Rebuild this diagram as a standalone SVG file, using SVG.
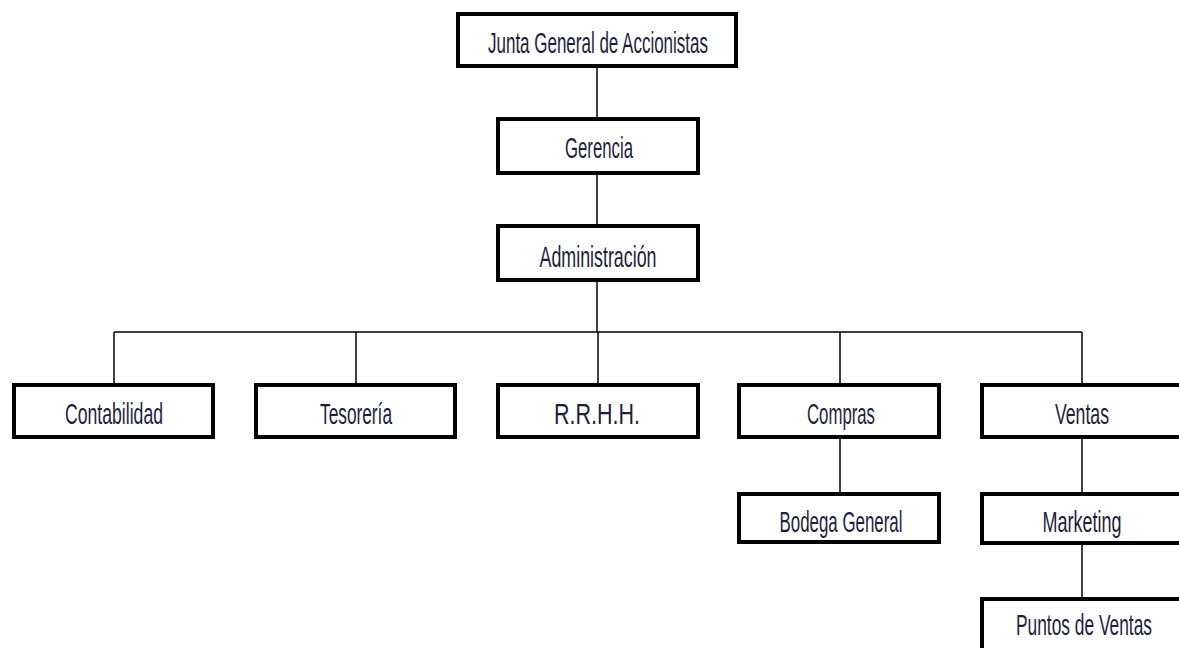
<svg xmlns="http://www.w3.org/2000/svg" width="1179" height="648" viewBox="0 0 1179 648">
<style>
.box{fill:#fff;stroke:#000;stroke-width:4}
.lbl{font-family:"Liberation Sans",Arial,sans-serif;font-size:30px;fill:#1e1e40;text-anchor:middle}
.ln{stroke:#000;stroke-width:1.5;fill:none}
</style>
<rect width="1179" height="648" fill="#fff"/>
<g id="connectors">
<line class="ln" x1="597" y1="68" x2="597" y2="117"/>
<line class="ln" x1="597" y1="175" x2="597" y2="224"/>
<line class="ln" x1="597" y1="282" x2="597" y2="332"/>
<line class="ln" x1="114" y1="332" x2="1082" y2="332"/>
<line class="ln" x1="114" y1="332" x2="114" y2="383"/>
<line class="ln" x1="356" y1="332" x2="356" y2="383"/>
<line class="ln" x1="598" y1="332" x2="598" y2="383"/>
<line class="ln" x1="840" y1="332" x2="840" y2="383"/>
<line class="ln" x1="1082" y1="332" x2="1082" y2="383"/>
<line class="ln" x1="840" y1="439" x2="840" y2="492"/>
<line class="ln" x1="1082" y1="439" x2="1082" y2="492"/>
<line class="ln" x1="1082" y1="545" x2="1082" y2="597"/>
</g>
<g id="junta"><rect class="box" x="458" y="14" width="278" height="52"/><text class="lbl" x="598" y="53" textLength="220" lengthAdjust="spacingAndGlyphs">Junta General de Accionistas</text></g>
<g id="gerencia"><rect class="box" x="498" y="119" width="200" height="54"/><text class="lbl" x="599" y="158" textLength="68" lengthAdjust="spacingAndGlyphs">Gerencia</text></g>
<g id="administracion"><rect class="box" x="498" y="226" width="200" height="54"/><text class="lbl" x="598" y="267" textLength="117" lengthAdjust="spacingAndGlyphs">Administración</text></g>
<g id="contabilidad"><rect class="box" x="14" y="385" width="199" height="52"/><text class="lbl" x="114" y="424" textLength="98" lengthAdjust="spacingAndGlyphs">Contabilidad</text></g>
<g id="tesoreria"><rect class="box" x="256" y="385" width="199" height="52"/><text class="lbl" x="356" y="424" textLength="72" lengthAdjust="spacingAndGlyphs">Tesorería</text></g>
<g id="rrhh"><rect class="box" x="498" y="385" width="200" height="52"/><text class="lbl" x="597" y="424" textLength="86" lengthAdjust="spacingAndGlyphs">R.R.H.H.</text></g>
<g id="compras"><rect class="box" x="739" y="385" width="200" height="52"/><text class="lbl" x="841" y="424" textLength="68" lengthAdjust="spacingAndGlyphs">Compras</text></g>
<g id="ventas"><rect class="box" x="982" y="385" width="200" height="52"/><text class="lbl" x="1082" y="424" textLength="54" lengthAdjust="spacingAndGlyphs">Ventas</text></g>
<g id="bodega"><rect class="box" x="739" y="494" width="200" height="48"/><text class="lbl" x="841" y="532" textLength="123" lengthAdjust="spacingAndGlyphs">Bodega General</text></g>
<g id="marketing"><rect class="box" x="982" y="494" width="200" height="49"/><text class="lbl" x="1082" y="532" textLength="79" lengthAdjust="spacingAndGlyphs">Marketing</text></g>
<g id="puntos"><rect class="box" x="982" y="599" width="200" height="60"/><text class="lbl" x="1084" y="635" font-size="28" textLength="136" lengthAdjust="spacingAndGlyphs">Puntos de Ventas</text></g>
</svg>
